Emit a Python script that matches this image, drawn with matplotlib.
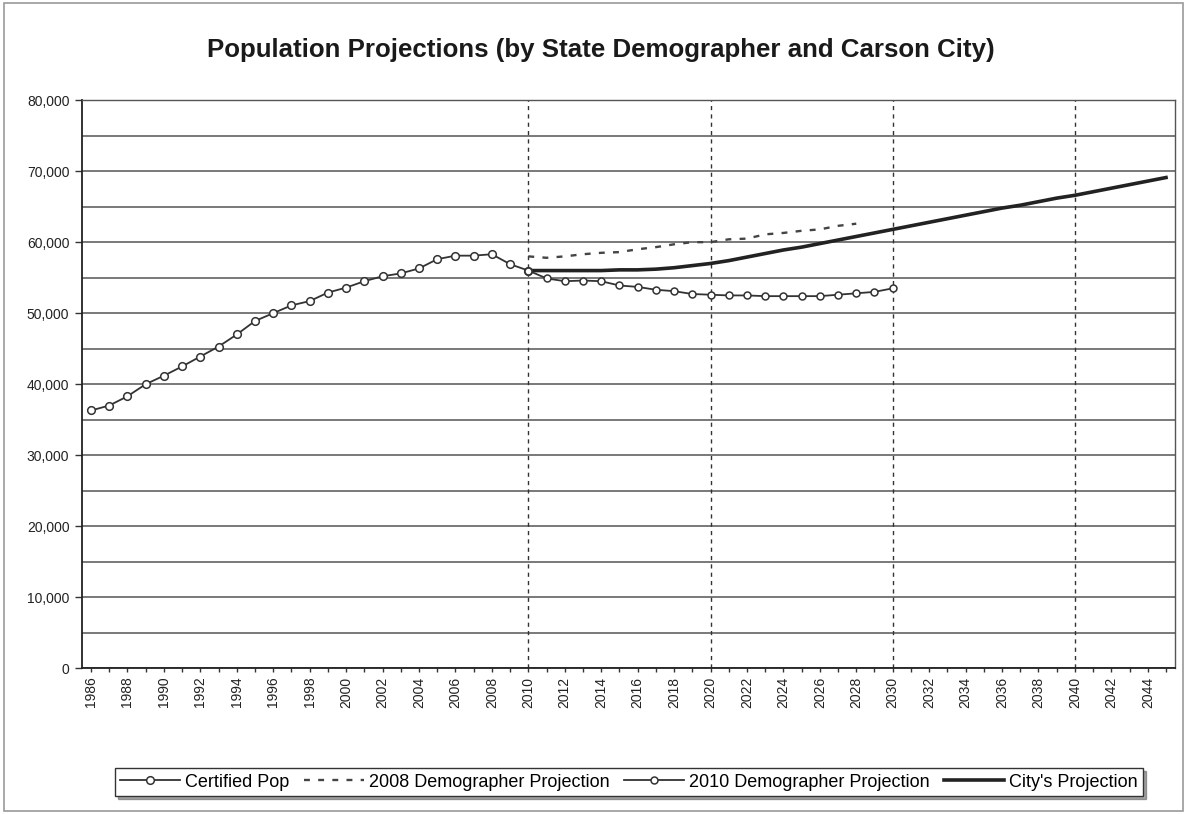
import matplotlib
matplotlib.use("Agg")
import matplotlib.pyplot as plt
from matplotlib.ticker import MultipleLocator, FuncFormatter, FixedLocator
from matplotlib.patches import Rectangle

plt.rcParams["font.family"] = ["Liberation Sans", "DejaVu Sans"]

# --- data ---
certified_years = list(range(1986, 2011))
certified_pop = [36300, 37000, 38300, 40000, 41200, 42500, 43900, 45300, 47000, 48900,
                 50000, 51100, 51700, 52900, 53600, 54500, 55200, 55600, 56300, 57600,
                 58100, 58100, 58300, 56900, 56000]

demo2008_years = list(range(2010, 2029))
demo2008_pop = [58000, 57800, 58000, 58300, 58500, 58600, 59000, 59300, 59700, 60000,
                60000, 60400, 60500, 61100, 61300, 61600, 61800, 62300, 62600]

demo2010_years = list(range(2010, 2031))
demo2010_pop = [56000, 54900, 54500, 54600, 54500, 53900, 53700, 53300, 53100, 52700,
                52600, 52500, 52500, 52400, 52400, 52400, 52400, 52600, 52800, 53000,
                53500]

city_years = list(range(2010, 2046))
city_pop = [56000, 56000, 56000, 56000, 56000, 56100, 56100, 56200, 56400, 56700,
            57000, 57400, 57900, 58400, 58900, 59300, 59800, 60300, 60800, 61300,
            61800, 62300, 62800, 63300, 63800, 64300, 64800, 65200, 65700, 66200,
            66600, 67100, 67600, 68100, 68600, 69100]

decade_marks = [2010, 2020, 2030, 2040]
all_years = list(range(1986, 2046))

fig = plt.figure(figsize=(11.87, 8.14), dpi=100)
fig.patch.set_facecolor("white")
ax = fig.add_axes([0.069, 0.179, 0.921, 0.698])

# рамка вокруг всей диаграммы
fig.patches.append(Rectangle((0.003, 0.004), 0.994, 0.992, transform=fig.transFigure,
                             fill=False, edgecolor="#9a9a9a", linewidth=1.2))

# горизонтальная сетка через 5 000
ax.set_axisbelow(True)
ax.yaxis.set_minor_locator(MultipleLocator(5000))
ax.grid(True, axis="y", which="both", color="#555555", linewidth=1.1)

for yr in decade_marks:
    ax.axvline(yr, color="#333333", linewidth=1.0, linestyle=(0, (3, 3)), zorder=1.5)

l_cert, = ax.plot(certified_years, certified_pop, color="#333333", linewidth=1.3,
                  marker="o", markersize=5.5, markerfacecolor="white",
                  markeredgecolor="#333333", markeredgewidth=1.1, zorder=4)
l_2008, = ax.plot(demo2008_years, demo2008_pop, color="#444444", linewidth=1.7,
                  linestyle=(0, (2.5, 3.5)), zorder=3)
l_2010, = ax.plot(demo2010_years, demo2010_pop, color="#333333", linewidth=1.3,
                  marker="o", markersize=5, markerfacecolor="white",
                  markeredgecolor="#333333", markeredgewidth=1.1, zorder=4)
l_city, = ax.plot(city_years, city_pop, color="#222222", linewidth=2.6, zorder=3)

ax.set_xlim(1985.5, 2045.5)
ax.set_ylim(0, 80000)
ax.yaxis.set_major_locator(MultipleLocator(10000))
ax.yaxis.set_major_formatter(FuncFormatter(lambda v, p: f"{int(v):,}"))

ax.xaxis.set_major_locator(FixedLocator(all_years))
ax.set_xticklabels([str(y) if y % 2 == 0 and y < 2045 else "" for y in all_years],
                   rotation=90, fontsize=10, color="#222222")
ax.tick_params(axis="y", which="major", labelsize=10, length=5, width=1,
               color="#333333", labelcolor="#222222", pad=4)
ax.tick_params(axis="y", which="minor", length=0)
ax.tick_params(axis="x", length=3, width=1, color="#333333", pad=3)

for side in ["left", "bottom"]:
    ax.spines[side].set_color("#222222")
    ax.spines[side].set_linewidth(1.3)
for side in ["top", "right"]:
    ax.spines[side].set_color("#555555")
    ax.spines[side].set_linewidth(1.0)

fig.text(0.506, 0.938, "Population Projections (by State Demographer and Carson City)",
         ha="center", va="center", fontsize=18.6, fontweight="bold", color="#1a1a1a")

leg = fig.legend([l_cert, l_2008, l_2010, l_city],
                 ["Certified Pop", "2008 Demographer Projection",
                  "2010 Demographer Projection", "City's Projection"],
                 loc="center", bbox_to_anchor=(0.53, 0.039), ncol=4, fontsize=13,
                 frameon=True, fancybox=False, shadow=True, borderpad=0.3,
                 handlelength=3.3, handletextpad=0.3, columnspacing=0.8)
leg.get_frame().set_edgecolor("#333333")
leg.get_frame().set_linewidth(1.0)

fig.savefig("out.png", dpi=100)
